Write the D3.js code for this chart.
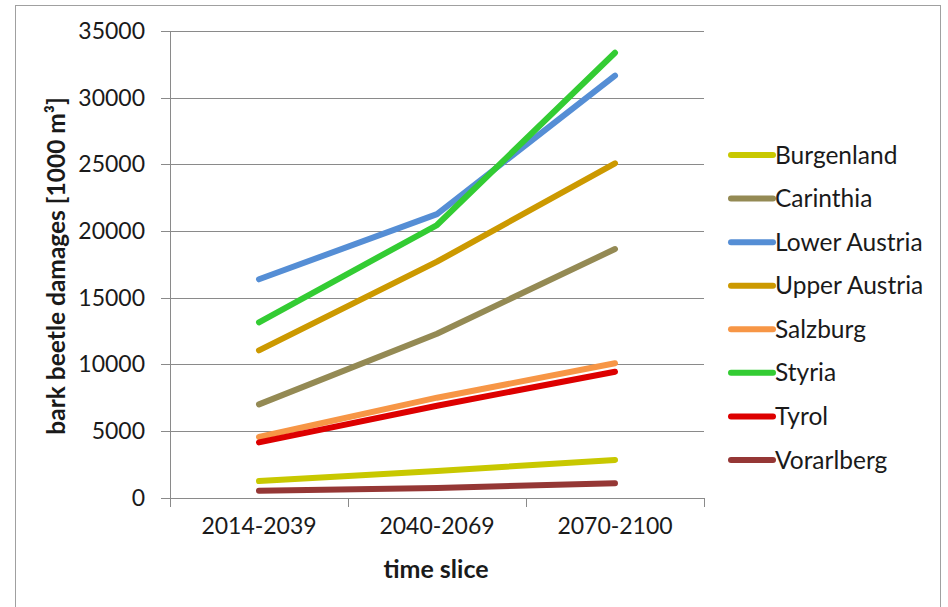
<!DOCTYPE html>
<html>
<head>
<meta charset="utf-8">
<script src="https://cdn.jsdelivr.net/npm/d3@7"></script>
<style>
  html, body { margin: 0; padding: 0; background: #fff; }
  svg { display: block; }
  text { font-family: Lato, "Open Sans", sans-serif; fill: #1a1a1a; }
</style>
</head>
<body>
<svg id="chart" width="948" height="607"></svg>
<script>
// Time slices on the x axis
const categories = ["2014-2039", "2040-2069", "2070-2100"];

// Series: region names, colours and projected damages [1000 m³]
const regions = ["Burgenland", "Carinthia", "Lower Austria", "Upper Austria",
                 "Salzburg", "Styria", "Tyrol", "Vorarlberg"];
const colors  = ["#C8C800", "#948A54", "#558ED5", "#CC9900",
                 "#F79646", "#33CC33", "#DD0000", "#953735"];

const burgenland   = [1250, 2000, 2830];
const carinthia    = [7000, 12300, 18650];
const lowerAustria = [16380, 21270, 31650];
const upperAustria = [11050, 17700, 25080];
const salzburg     = [4550, 7500, 10080];
const styria       = [13150, 20450, 33370];
const tyrol        = [4150, 6900, 9450];
const vorarlberg   = [530, 730, 1080];

const seriesValues = [burgenland, carinthia, lowerAustria, upperAustria,
                      salzburg, styria, tyrol, vorarlberg];

const yTicks = [0, 5000, 10000, 15000, 20000, 25000, 30000, 35000];

const svg = d3.select("#chart");

// Outer chart frame
svg.append("rect")
  .attr("x", 15.5).attr("y", 5.5)
  .attr("width", 925).attr("height", 620)
  .attr("fill", "none").attr("stroke", "#a0a0a0").attr("stroke-width", 1);

const plot = { left: 170, right: 704, top: 31, bottom: 497.7 };

const x = d3.scaleBand().domain(categories).range([plot.left, plot.right]).padding(0);
const y = d3.scaleLinear().domain([0, 35000]).range([plot.bottom, plot.top]);

const axisColor = "#8a8a8a";

// Horizontal gridlines (including the short tick stub left of the axis)
svg.append("g")
  .attr("transform", `translate(${plot.right},0)`)
  .call(d3.axisLeft(y).tickValues(yTicks).tickSize(plot.right - plot.left + 9).tickFormat(""))
  .call(g => g.select(".domain").remove())
  .call(g => g.selectAll(".tick line").attr("stroke", axisColor).attr("shape-rendering", "crispEdges"));

// Y axis labels
svg.append("g")
  .attr("transform", `translate(${plot.left},0)`)
  .call(d3.axisLeft(y).tickValues(yTicks).tickSize(0).tickPadding(25).tickFormat(d3.format("d")))
  .call(g => g.select(".domain").remove())
  .call(g => g.selectAll("text")
      .attr("font-size", "23px")
      .attr("font-family", "Lato, 'Open Sans', sans-serif")
      .attr("fill", "#1a1a1a"));

// Y axis line, extended down to the first category tick
svg.append("line")
  .attr("x1", plot.left).attr("x2", plot.left)
  .attr("y1", plot.top).attr("y2", plot.bottom + 9)
  .attr("stroke", axisColor).attr("shape-rendering", "crispEdges");

// X axis: category labels centred in each band
svg.append("g")
  .attr("transform", `translate(0,${plot.bottom})`)
  .call(d3.axisBottom(x).tickSize(0).tickPadding(20))
  .call(g => g.select(".domain").remove())
  .call(g => g.selectAll("text")
      .attr("font-size", "23px")
      .attr("font-family", "Lato, 'Open Sans', sans-serif")
      .attr("fill", "#1a1a1a"));

// Tick marks on the band boundaries
const edges = categories.map(c => x(c)).concat([x(categories[categories.length - 1]) + x.bandwidth()]);
svg.append("g").selectAll("line").data(edges).join("line")
  .attr("x1", d => d).attr("x2", d => d)
  .attr("y1", plot.bottom).attr("y2", plot.bottom + 9)
  .attr("stroke", axisColor).attr("shape-rendering", "crispEdges");

// Axis titles
svg.append("text")
  .attr("x", 436).attr("y", 578)
  .attr("text-anchor", "middle")
  .attr("font-size", "25px").attr("font-weight", "bold")
  .text("time slice");

svg.append("text")
  .attr("transform", `translate(65,266) rotate(-90)`)
  .attr("text-anchor", "middle")
  .attr("font-size", "24.5px").attr("font-weight", "bold")
  .text("bark beetle damages [1000 m³]");

// Series lines
const line = d3.line()
  .x((d, i) => x(categories[i]) + x.bandwidth() / 2)
  .y(d => y(d));

svg.append("g").selectAll("path").data(seriesValues).join("path")
  .attr("d", d => line(d))
  .attr("fill", "none")
  .attr("stroke", (d, i) => colors[i])
  .attr("stroke-width", 6)
  .attr("stroke-linecap", "round")
  .attr("stroke-linejoin", "round");

// Legend
const legend = svg.append("g").selectAll("g").data(regions).join("g")
  .attr("transform", (d, i) => `translate(731,${155 + i * 43.57})`);

legend.append("line")
  .attr("x1", 0).attr("x2", 42).attr("y1", 0).attr("y2", 0)
  .attr("stroke", (d, i) => colors[i])
  .attr("stroke-width", 6)
  .attr("stroke-linecap", "round");

legend.append("text")
  .attr("x", 44).attr("y", 0).attr("dy", "0.35em")
  .attr("font-size", "24.5px")
  .text(d => d);
</script>
</body>
</html>
